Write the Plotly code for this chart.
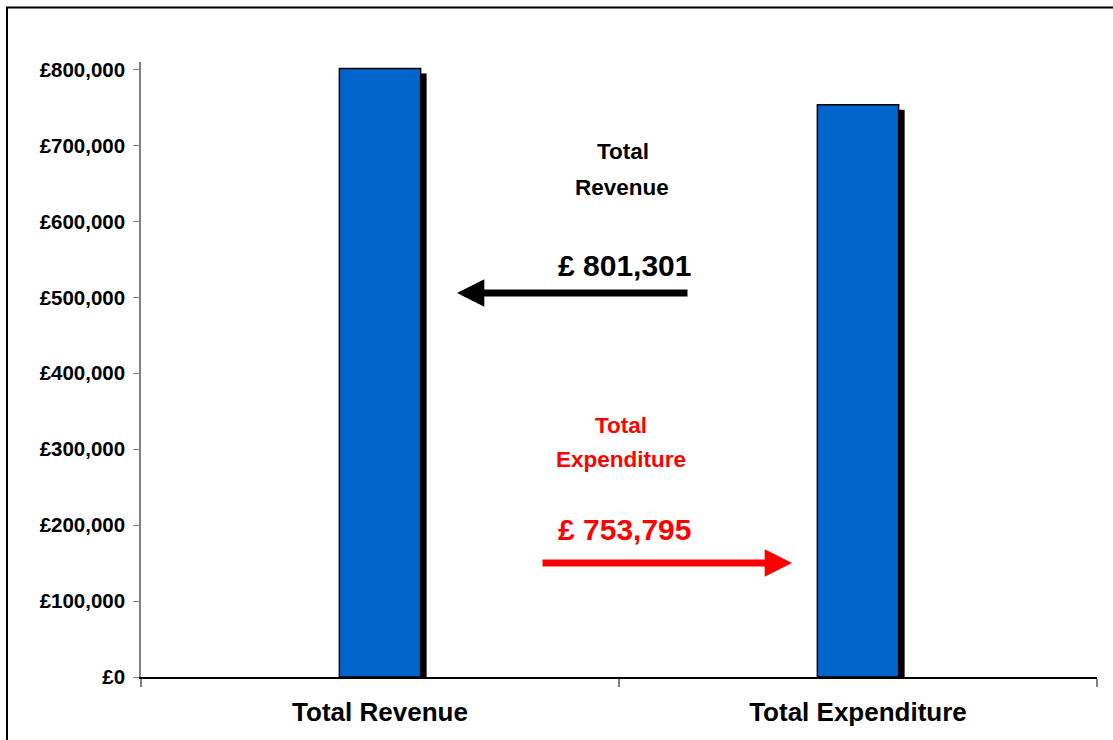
import plotly.graph_objects as go

categories = ["Total Revenue", "Total Expenditure"]
values = [801301, 753795]
value_labels = ["£ 801,301", "£ 753,795"]
label_titles = [["Total", "Revenue"], ["Total", "Expenditure"]]
label_colors = ["#000000", "#FF0000"]
tick_values = [0, 100000, 200000, 300000, 400000, 500000, 600000, 700000, 800000]

FONT = "Arial, 'Liberation Sans', sans-serif"
W, H = 1113, 740
L, R, T, B = 141, 16, 62, 63
plot_w = W - L - R
plot_h = H - T - B
y_max = 810000
bar_w = 0.17
shadow_dx = 6 / plot_w * 2.0  # category units (range width 2)
shadow_dy = 5 / plot_h * y_max

fig = go.Figure()
# shadow bars
fig.add_trace(go.Bar(
    x=categories, y=[v - shadow_dy for v in values],
    width=bar_w, offset=-bar_w / 2 + shadow_dx,
    marker=dict(color="#000000", line=dict(width=0)),
    hoverinfo="skip", showlegend=False))
# main bars
fig.add_trace(go.Bar(
    x=categories, y=values, width=bar_w, offset=-bar_w / 2,
    marker=dict(color="#0066CC", line=dict(color="#000000", width=1.5)),
    showlegend=False))

def px_x(px):
    return (px - L) / plot_w

def px_y(py):
    return (H - B - py) / plot_h

ann = []
ann.append(dict(text=label_titles[0][0], x=px_x(623), y=px_y(151)))
ann.append(dict(text=label_titles[0][1], x=px_x(622), y=px_y(187)))
ann.append(dict(text=value_labels[0], x=px_x(624), y=px_y(265), size=30))
ann.append(dict(text=label_titles[1][0], x=px_x(621), y=px_y(426), color=label_colors[1]))
ann.append(dict(text=label_titles[1][1], x=px_x(621), y=px_y(459), color=label_colors[1]))
ann.append(dict(text=value_labels[1], x=px_x(624), y=px_y(529), size=30, color=label_colors[1]))
annotations = []
for a in ann:
    annotations.append(dict(
        text="<b>" + a["text"] + "</b>", x=a["x"], y=a["y"],
        xref="x domain", yref="y domain", showarrow=False,
        xanchor="center", yanchor="middle",
        font=dict(family=FONT, size=a.get("size", 22.5), color=a.get("color", "#000000"))))

# arrows
annotations.append(dict(
    text="", x=px_x(457), y=px_y(293), ax=px_x(689), ay=px_y(293),
    xref="x domain", yref="y domain", axref="x domain", ayref="y domain",
    showarrow=True, arrowhead=2, arrowsize=0.78, arrowwidth=7, arrowcolor="#000000"))
annotations.append(dict(
    text="", x=px_x(792), y=px_y(563), ax=px_x(541), ay=px_y(563),
    xref="x domain", yref="y domain", axref="x domain", ayref="y domain",
    showarrow=True, arrowhead=2, arrowsize=0.78, arrowwidth=7, arrowcolor="#FF0000"))

fig.update_layout(
    width=W, height=H,
    margin=dict(l=L, r=R, t=T, b=B),
    paper_bgcolor="white", plot_bgcolor="white",
    barmode="overlay",
    annotations=annotations,
    shapes=[dict(type="rect", xref="paper", yref="paper",
                 x0=(7 - L) / plot_w, x1=(W + 20 - L) / plot_w,
                 y0=(H - B - (H + 20)) / plot_h, y1=(H - B - 7.5) / plot_h,
                 line=dict(color="#000000", width=2), fillcolor="rgba(0,0,0,0)",
                 layer="below")],
    xaxis=dict(
        type="category", range=[-0.5, 1.5],
        tickmode="array", tickvals=categories,
        ticktext=["<b>" + c + "</b>" for c in categories],
        tickson="boundaries", ticks="outside", ticklen=8, tickcolor="#808080",
        tickwidth=1.5, ticklabelstandoff=11,
        showline=True, linecolor="#000000", linewidth=2, showgrid=False,
        tickfont=dict(family=FONT, size=26, color="#000000"), zeroline=False),
    yaxis=dict(
        range=[0, y_max], tickmode="array", tickvals=tick_values,
        ticktext=["<b>£" + f"{v:,}" + "</b>" for v in tick_values],
        ticks="outside", ticklen=6, tickcolor="#808080", ticklabelstandoff=4,
        showline=True, linecolor="#808080", linewidth=1.5, showgrid=False,
        zeroline=False, tickfont=dict(family=FONT, size=20.5, color="#000000")),
    hovermode=False,
)

fig.write_html("out.html", config={"displayModeBar": False},
               post_script="document.body.style.margin='0';")
